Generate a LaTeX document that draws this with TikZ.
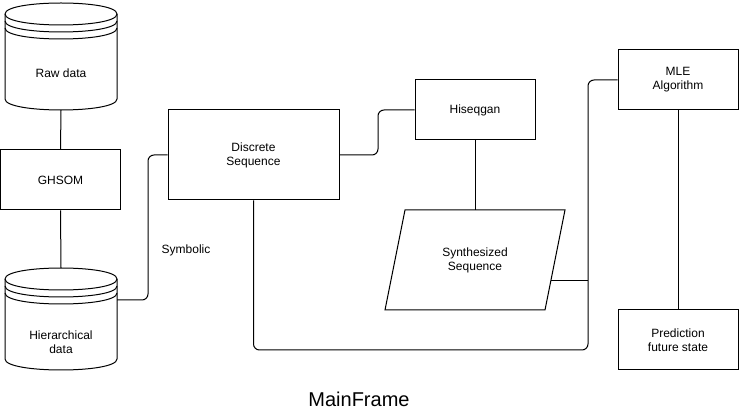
\documentclass[tikz,border=0pt]{standalone}
\usepackage{fontspec}
\setmainfont{Liberation Sans}
\usetikzlibrary{positioning}

\tikzset{
	box/.style={draw, line width=1pt, minimum width=120pt, minimum height=60pt, align=center, font=\fontsize{12}{14}\selectfont},
	txt/.style={align=center, font=\fontsize{12}{14}\selectfont},
	wire/.style={line width=1pt, rounded corners=6pt},
}

% stacked cylinder: name, left, top, right, bottom, text y, text
\newcommand{\datastore}[7]{%
	\draw[line width=1pt] (#2,#3+11) .. controls (#2,#3-11/3) and (#4,#3-11/3) .. (#4,#3+11)
	-- (#4,#5-11) .. controls (#4,#5+11/3) and (#2,#5+11/3) .. (#2,#5-11) -- cycle;
	\foreach \off in {0,7,14}
	\draw[line width=1pt] (#2,#3+11+\off) .. controls (#2,#3+11+\off+44/3) and (#4,#3+11+\off+44/3) .. (#4,#3+11+\off);
	\node[inner sep=0pt, minimum width=(#4-#2)*1pt, minimum height=(#5-#3)*1pt] (#1) at ({(#2+#4)/2},{(#3+#5)/2}) {};
	\node[txt] (#1-text) at ({(#2+#4)/2},#6) {#7};
}

\begin{document}
\begin{tikzpicture}[x=1pt, y=-1pt]
	\useasboundingbox (0,0) rectangle (739,419);
	% left column
	\datastore{raw}{5}{3}{117}{110}{73}{Raw data}
	\node[box] (ghsom) at (60.5,180) {GHSOM};
	\datastore{hier}{5}{268}{117}{370}{342}{Hierarchical\\data}
	\coordinate (hierout) at (117,300);
	% middle
	\node[box, minimum width=171pt, minimum height=90pt] (disc) at (253.5,155) {Discrete\\Sequence};
	\node[box] (hiseq) at (475,110) {Hiseqgan};
	\draw[line width=1pt] (405,210) -- (565,210) -- (545,310) -- (385,310) -- cycle;
	\node[txt] (synth) at (475,260) {Synthesized\\Sequence};
	\coordinate (synthout) at (551,281);
	\node[txt] (symb) at (186,250) {Symbolic};
	% right column
	\node[box] (mle) at (678,80) {MLE\\Algorithm};
	\node[box] (pred) at (678,340) {Prediction\\future state};
	% connectors
	\draw[wire] (raw.south) -- (ghsom.north);
	\draw[wire] (ghsom.south) -- (hier.north);
	\draw[wire] (hierout) -| (148,155) -- (disc.west);
	\draw[wire] (disc.east) -| (378,110) -- (hiseq.west);
	\draw[wire] (hiseq.south) -- (475,210);
	\draw[wire] (disc.south) |- (588,350) |- (mle.west);
	\draw[wire] (synthout) -- (588,281);
	\draw[wire] (mle.south) -- (pred.north);
	\node[font=\fontsize{20}{24}\selectfont] (title) at (359,399) {MainFrame};
\end{tikzpicture}
\end{document}
